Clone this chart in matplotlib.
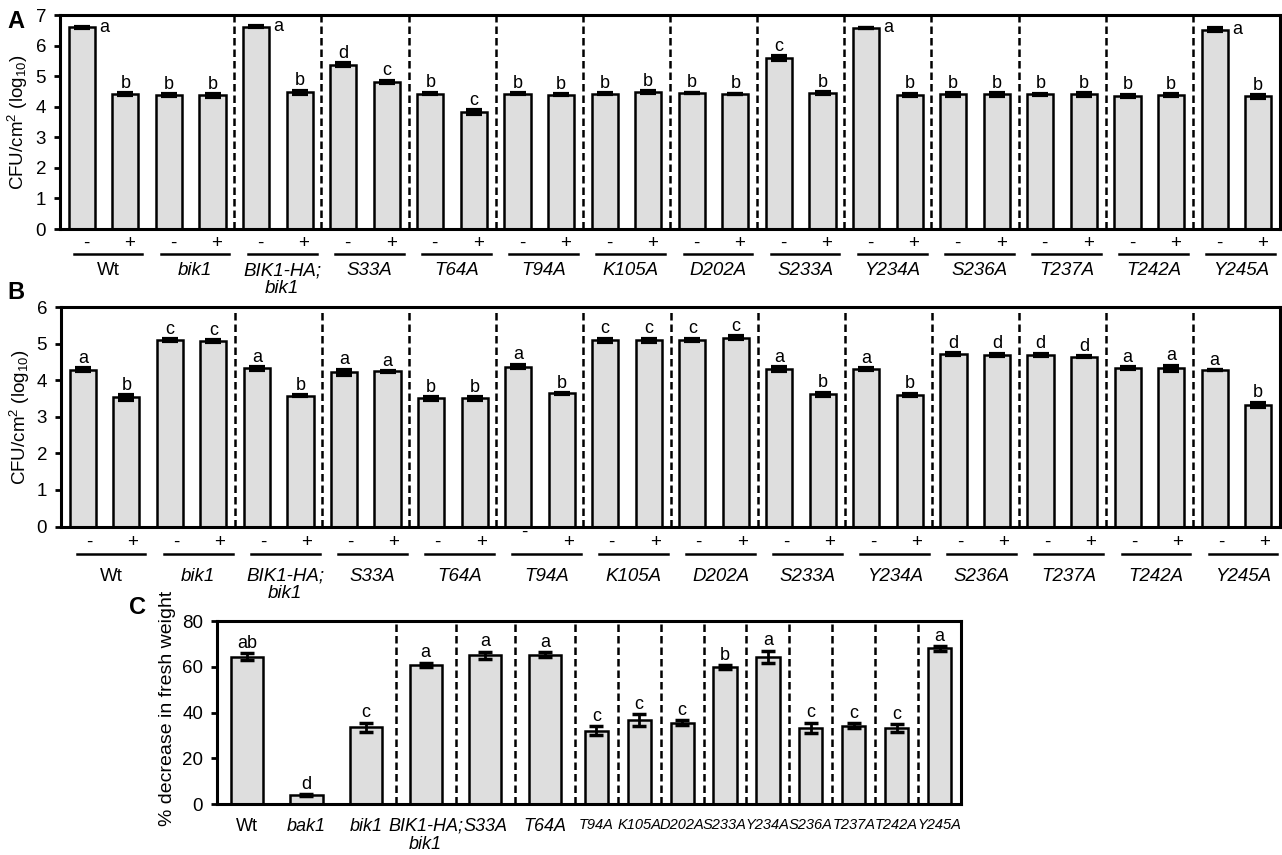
import numpy as np
import matplotlib
matplotlib.use("Agg")
import matplotlib.pyplot as plt

plt.rcParams['font.family'] = ['Liberation Sans', 'DejaVu Sans']
plt.rcParams['mathtext.fontset'] = 'custom'
plt.rcParams['mathtext.rm'] = 'Liberation Sans'
plt.rcParams['mathtext.it'] = 'Liberation Sans:italic'

# grupos dos paineis A e B (cada um com - e +)
grupos = ["Wt", "bik1", "BIK1-HA;\nbik1", "S33A", "T64A", "T94A", "K105A",
          "D202A", "S233A", "Y234A", "S236A", "T237A", "T242A", "Y245A"]
sinais = ["-", "+"]

# painel A - CFU/cm2 (log10)
a_media = [6.60, 4.42, 4.37, 4.37, 6.62, 4.47, 5.38, 4.82, 4.43, 3.83,
           4.43, 4.39, 4.43, 4.48, 4.45, 4.41, 5.60, 4.44, 6.58, 4.39,
           4.40, 4.40, 4.40, 4.40, 4.35, 4.37, 6.52, 4.34]
a_erro = [0.02, 0.03, 0.03, 0.04, 0.02, 0.05, 0.05, 0.03, 0.03, 0.06,
          0.02, 0.02, 0.01, 0.02, 0.01, 0.01, 0.06, 0.03, 0.01, 0.04,
          0.04, 0.04, 0.02, 0.05, 0.04, 0.03, 0.05, 0.04]
a_letras = ["a", "b", "b", "b", "a", "b", "d", "c", "b", "c", "b", "b", "b", "b",
            "b", "b", "c", "b", "a", "b", "b", "b", "b", "b", "b", "b", "a", "b"]
a_lado = [0, 4, 18, 26]  # letra ao lado da barra

# painel B - CFU/cm2 (log10)
b_media = [4.29, 3.53, 5.09, 5.07, 4.32, 3.58, 4.22, 4.24, 3.50, 3.50,
           4.37, 3.64, 5.09, 5.09, 5.10, 5.16, 4.30, 3.62, 4.30, 3.60,
           4.71, 4.69, 4.69, 4.64, 4.33, 4.33, 4.27, 3.32]
b_erro = [0.03, 0.06, 0.03, 0.02, 0.04, 0.01, 0.07, 0.01, 0.03, 0.03,
          0.05, 0.01, 0.04, 0.04, 0.03, 0.04, 0.05, 0.04, 0.03, 0.03,
          0.02, 0.03, 0.03, 0.01, 0.03, 0.07, 0.0, 0.06]
b_letras = ["a", "b", "c", "c", "a", "b", "a", "a", "b", "b", "a", "b", "c", "c",
            "c", "c", "a", "b", "a", "b", "d", "d", "d", "d", "a", "a", "a", "b"]

# painel C - % decrease in fresh weight
c_nomes = ["Wt", "bak1", "bik1", "BIK1-HA;\nbik1", "S33A", "T64A", "T94A", "K105A",
           "D202A", "S233A", "Y234A", "S236A", "T237A", "T242A", "Y245A"]
c_media = [64.4, 3.8, 33.6, 60.7, 65.0, 65.3, 32.0, 36.8, 35.6, 59.8, 64.4,
           33.2, 34.2, 33.2, 68.0]
c_erro = [1.5, 0.5, 2.0, 1.0, 1.5, 1.0, 2.0, 2.5, 1.0, 1.0, 2.7, 2.3, 1.0, 1.8, 1.0]
c_letras = ["ab", "d", "c", "a", "a", "a", "c", "c", "c", "b", "a", "c", "c", "c", "a"]

W, H = 1282, 855
fig = plt.figure(figsize=(W / 100, H / 100), dpi=100)
cinza = '#dedede'


def eixo(l, t, r, b):
    return fig.add_axes([l / W, 1 - b / H, (r - l) / W, (b - t) / H])


def baixo(ax, px):
    # distancia em pixels abaixo do eixo -> fracao do eixo
    return -px / (ax.get_position().height * H)


def estilo(ax):
    for s in ax.spines.values():
        s.set_linewidth(2.2)
    ax.tick_params(axis='y', length=4, width=2, labelsize=13.5, pad=6)
    ax.tick_params(axis='x', length=0)


def painel(ax, media, erro, letras, ymax, desl, lin, nom, lado=(), sobe=None):
    x = np.arange(len(media))
    ax.bar(x, media, width=0.6, color=cinza, edgecolor='black', linewidth=1.8, zorder=2)
    ax.errorbar(x, media, yerr=erro, fmt='none', ecolor='black', elinewidth=2,
                capsize=6, capthick=3, zorder=3)
    for s in np.arange(3.5, 26, 2):
        ax.axvline(s, color='black', lw=1.8, ls=(0, (3, 1.6)), zorder=1)
    for i, (m, e, l) in enumerate(zip(media, erro, letras)):
        if i in lado:
            ax.annotate(l, (i + 0.3, m), xytext=(3, 0), textcoords='offset points',
                        ha='left', va='center', fontsize=13)
        else:
            ax.annotate(l, (i, m + e), xytext=(0, 1), textcoords='offset points',
                        ha='center', va='bottom', fontsize=13)
    ax.set_xlim(-0.5, len(media) - 0.5)
    ax.set_ylim(0, ymax)
    ax.set_yticks(range(ymax + 1))
    ax.set_xticks([])
    estilo(ax)
    tr = ax.get_xaxis_transform()
    for g, nome in enumerate(grupos):
        c = 2 * g + 0.5 + desl
        for k, s in enumerate(sinais):
            y = baixo(ax, lin[0])
            if sobe and nome in sobe and s == "-":
                y = baixo(ax, lin[0] - sobe[nome])
            ax.text(2 * g + k + desl, y, s, transform=tr, ha='center', va='center',
                    fontsize=13.5, clip_on=False)
        ax.plot([c - 0.79, c + 0.79], [baixo(ax, lin[1])] * 2, transform=tr,
                color='black', lw=1.8, clip_on=False)
        ax.text(c, baixo(ax, nom), nome, transform=tr, ha='center', va='top',
                fontsize=13.5, style='normal' if nome == "Wt" else 'italic',
                linespacing=1.05, clip_on=False)


axA = eixo(60, 15, 1280, 229)
painel(axA, a_media, a_erro, a_letras, 7, 0.1, (14, 25), 33, lado=a_lado)

axB = eixo(61, 307, 1280, 526.5)
painel(axB, b_media, b_erro, b_letras, 6, 0.15, (16, 27.5), 41, sobe={"T94A": 10})

# painel C com escala comprimida depois de T64A (como na figura)
k = 1.39


def fwd(v):
    v = np.asarray(v, float)
    return np.where(v < 5.5, (v - 5.5) * k, v - 5.5)


def inv(v):
    v = np.asarray(v, float)
    return np.where(v < 0, v / k + 5.5, v + 5.5)


axC = eixo(217, 621, 961, 804)
axC.set_xscale('function', functions=(fwd, inv))
xc = np.arange(len(c_media))
axC.bar(xc, c_media, width=0.54, color=cinza, edgecolor='black', linewidth=1.8, zorder=2)
axC.errorbar(xc, c_media, yerr=c_erro, fmt='none', ecolor='black', elinewidth=2,
             capsize=5, capthick=2.5, zorder=3)
for s in np.arange(2.5, 14, 1):
    axC.axvline(s, color='black', lw=1.8, ls=(0, (3, 1.6)), zorder=1)
for i, (m, e, l) in enumerate(zip(c_media, c_erro, c_letras)):
    axC.annotate(l, (i, m + e), xytext=(0, 1), textcoords='offset points',
                 ha='center', va='bottom', fontsize=13)
axC.set_xlim(-0.5, 14.5)
axC.set_ylim(0, 80)
axC.set_yticks([0, 20, 40, 60, 80])
axC.set_xticks(xc, c_nomes)
estilo(axC)
axC.tick_params(axis='x', labelsize=13, pad=10)
for i, t in enumerate(axC.get_xticklabels()):
    t.set_linespacing(1.05)
    if t.get_text() != "Wt":
        t.set_fontstyle('italic')
    if i >= 6:
        # parte comprimida: letra menor para nao encostar
        t.set_fontsize(10.5)

# titulos dos eixos e letras dos paineis
fig.text(18 / W, 1 - 122 / H, 'CFU/cm$^2$ (log$_{10}$)', rotation=90,
         ha='center', va='center', fontsize=13.5)
fig.text(20 / W, 1 - 417 / H, 'CFU/cm$^2$ (log$_{10}$)', rotation=90,
         ha='center', va='center', fontsize=13.5)
fig.text(168 / W, 1 - 708 / H, '% decrease in fresh weight', rotation=90,
         ha='center', va='center', fontsize=14)
fig.text(16 / W, 1 - 22 / H, 'A', fontsize=17, fontweight='bold', ha='center', va='center')
fig.text(16 / W, 1 - 292 / H, 'B', fontsize=17, fontweight='bold', ha='center', va='center')
fig.text(137 / W, 1 - 607 / H, 'C', fontsize=17, fontweight='bold', ha='center', va='center')

fig.savefig("out.png", dpi=100)
